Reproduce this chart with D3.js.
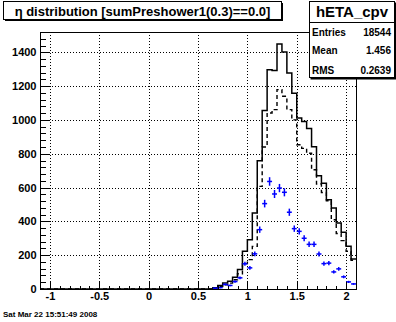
<!DOCTYPE html>
<html><head><meta charset="utf-8">
<script src="https://cdn.jsdelivr.net/npm/d3@7"></script>
<style>body{margin:0;background:#fff}svg{display:block}</style>
</head><body>
<script>
// ---- data ----
const binLow = [0.60,0.65,0.70,0.75,0.80,0.85,0.90,0.95,1.00,1.05,1.10,1.15,1.20,1.25,1.30,1.35,1.40,1.45,1.50,1.55,1.60,1.65,1.70,1.75,1.80,1.85,1.90,1.95,2.00,2.05];
const allCounts  = [0,7,20,36,46,70,115,223,292,449,758,1055,1297,1292,1449,1401,1278,1158,1012,990,950,842,670,625,528,479,390,335,253,178];
const dashCounts = [0,5,14,25,35,55,90,150,174,252,607,840,1041,1061,1179,1140,1061,1000,853,832,803,705,621,571,522,410,328,286,223,170];
const blueCounts = [0,5,8,27,21,44,66,149,125,208,351,505,636,562,597,572,454,357,341,300,264,264,207,150,153,101,119,72,42,30];
const binWidth = 0.05;
const xTicks = [-1,-0.5,0,0.5,1,1.5,2];
const yTicks = [0,200,400,600,800,1000,1200,1400];
const titleText = "η distribution [sumPreshower1(0.3)==0.0]";
const statName = "hETA_cpv";
const statLabels = ["Entries","Mean","RMS"];
const statValues = ["18544","1.456","0.2639"];
const dateText = "Sat Mar 22 15:51:49 2008";

// ---- layout ----
const W = 396, H = 322;
const L = 40, R = 356, T = 32, B = 289;
const font = "'Liberation Sans', Arial, Helvetica, sans-serif";

const svg = d3.select("body").append("svg").attr("width", W).attr("height", H)
  .style("font-family", font);

const x = d3.scaleLinear().domain([-1.1, 2.1]).range([L, R]);
const y = d3.scaleLinear().domain([0, 1520]).range([B, T]);

// grid
const grid = svg.append("g").attr("stroke", "#000").attr("stroke-width", 1).attr("stroke-dasharray", "1,2");
grid.selectAll("line.gx").data(xTicks).join("line")
  .attr("x1", d => Math.round(x(d)) + 0.5).attr("x2", d => Math.round(x(d)) + 0.5)
  .attr("y1", T).attr("y2", B);
grid.selectAll("line.gy").data(yTicks.filter(d => d > 0)).join("line")
  .attr("y1", d => Math.round(y(d)) + 0.5).attr("y2", d => Math.round(y(d)) + 0.5)
  .attr("x1", L).attr("x2", R);

// histogram path helper
function stepPath(counts) {
  let p = `M${x(-1.1)},${y(0)}L${x(binLow[0])},${y(0)}`;
  counts.forEach((c, i) => {
    p += `L${x(binLow[i])},${y(c)}L${x(binLow[i] + binWidth)},${y(c)}`;
  });
  return p;
}

svg.append("path").attr("d", stepPath(dashCounts)).attr("fill", "none")
  .attr("stroke", "#000").attr("stroke-width", 1.4).attr("stroke-dasharray", "4,3");
svg.append("path").attr("d", stepPath(allCounts)).attr("fill", "none")
  .attr("stroke", "#000").attr("stroke-width", 1.5);

// blue error crosses
const blue = svg.append("g").attr("stroke", "#0000ff").attr("stroke-width", 1.5);
const pts = binLow.map((b, i) => ({c: b + binWidth / 2, v: blueCounts[i]})).filter(d => d.v > 0);
blue.selectAll("line.h").data(pts).join("line")
  .attr("x1", d => x(d.c - binWidth / 2)).attr("x2", d => x(d.c + binWidth / 2))
  .attr("y1", d => y(d.v)).attr("y2", d => y(d.v));
blue.selectAll("line.v").data(pts).join("line")
  .attr("x1", d => x(d.c)).attr("x2", d => x(d.c))
  .attr("y1", d => y(d.v - Math.sqrt(d.v))).attr("y2", d => y(d.v + Math.sqrt(d.v)));

// axes
const xMinor = d3.range(-11, 22).map(i => i / 10).filter(v => !xTicks.some(t => Math.abs(t - v) < 1e-9));
const yMinor = d3.range(0, 1521, 40).filter(v => v % 200 !== 0);

const gx = svg.append("g").attr("transform", `translate(0,${B + 0.5})`)
  .call(d3.axisBottom(x).tickValues(xTicks).tickSizeInner(-8).tickSizeOuter(0).tickPadding(3)
    .tickFormat(d => String(d)));
const gxm = svg.append("g").attr("transform", `translate(0,${B + 0.5})`)
  .call(d3.axisBottom(x).tickValues(xMinor).tickSizeInner(-4).tickSizeOuter(0).tickFormat(""));
const gy = svg.append("g").attr("transform", `translate(${L + 0.5},0)`)
  .call(d3.axisLeft(y).tickValues(yTicks).tickSizeInner(-9).tickSizeOuter(0).tickPadding(4)
    .tickFormat(d => String(d)));
const gym = svg.append("g").attr("transform", `translate(${L + 0.5},0)`)
  .call(d3.axisLeft(y).tickValues(yMinor).tickSizeInner(-5).tickSizeOuter(0).tickFormat(""));
[gx, gxm, gy, gym].forEach(g => {
  g.select(".domain").remove();
  g.selectAll("line").attr("stroke", "#000").attr("shape-rendering", "crispEdges");
  g.selectAll("text").attr("font-family", font).attr("font-weight", "bold").attr("font-size", 11).attr("fill", "#000");
});

// frame
svg.append("rect").attr("x", L + 0.5).attr("y", T + 0.5).attr("width", R - L).attr("height", B - T)
  .attr("fill", "none").attr("stroke", "#000").attr("stroke-width", 1);

// title box
svg.append("rect").attr("x", 5).attr("y", 3).attr("width", 278).attr("height", 18).attr("fill", "#000");
svg.append("rect").attr("x", 3.5).attr("y", 1.5).attr("width", 278).attr("height", 18)
  .attr("fill", "#fff").attr("stroke", "#000").attr("stroke-width", 1);
svg.append("text").attr("x", 142.5).attr("y", 15.5).attr("text-anchor", "middle")
  .attr("font-size", 13).attr("font-weight", "bold").text(titleText);

// stats box
const sx = 309, sy = 1, sw = 86, sh = 77;
svg.append("rect").attr("x", sx + 1.5).attr("y", sy + 1.5).attr("width", sw).attr("height", sh).attr("fill", "#000");
svg.append("rect").attr("x", sx + 0.5).attr("y", sy + 0.5).attr("width", sw - 1).attr("height", sh - 1)
  .attr("fill", "#fff").attr("stroke", "#000").attr("stroke-width", 1);
svg.append("line").attr("x1", sx).attr("x2", sx + sw).attr("y1", 22.5).attr("y2", 22.5).attr("stroke", "#000");
svg.append("text").attr("x", sx + sw / 2).attr("y", 17).attr("text-anchor", "middle")
  .attr("font-size", 15).attr("font-weight", "bold").text(statName);
const rowY = [35.5, 54, 73.5];
statLabels.forEach((lab, i) => {
  svg.append("text").attr("x", sx + 3).attr("y", rowY[i]).attr("font-size", 10).attr("font-weight", "bold").text(lab);
  svg.append("text").attr("x", sx + sw - 4).attr("y", rowY[i]).attr("text-anchor", "end")
    .attr("font-size", 10).attr("font-weight", "bold").text(statValues[i]);
});

// date
svg.append("text").attr("x", 3).attr("y", 317).attr("font-size", 8).attr("font-weight", "bold").text(dateText);
</script>
</body></html>
